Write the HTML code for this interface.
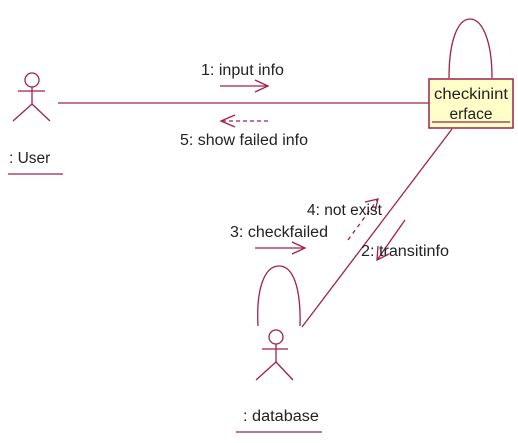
<!DOCTYPE html>
<html><head><style>body{margin:0;background:#fff}svg{display:block}text{font-family:"Liberation Sans",sans-serif;font-size:15.5px;fill:#222}</style></head><body>
<svg width="518" height="443" viewBox="0 0 518 443" xmlns="http://www.w3.org/2000/svg">
<g stroke="#a0204a" stroke-width="1.3" fill="none">
<circle cx="32" cy="80" r="7"/><line x1="18" y1="91" x2="45" y2="91"/><line x1="32" y1="87" x2="32" y2="104"/><line x1="32" y1="104" x2="13" y2="121"/><line x1="32" y1="104" x2="50" y2="121"/>
<line x1="8" y1="174" x2="63" y2="174"/>
<line x1="58" y1="103" x2="430" y2="103"/>
<path d="M449 78 C449 40 458 19 470 19 C482 19 492 40 492 78"/>
<line x1="452" y1="129" x2="302" y2="327"/>
<path d="M258 326 C256 290 264 266 279 266 C294 266 301 290 300 326"/>
<circle cx="276" cy="337" r="7"/><line x1="262" y1="349" x2="288" y2="349"/><line x1="276" y1="344" x2="276" y2="362"/><line x1="276" y1="362" x2="256" y2="380"/><line x1="276" y1="362" x2="293" y2="380"/>
<line x1="236" y1="432" x2="322" y2="432"/>
<line x1="220" y1="86" x2="268" y2="86"/><path d="M255 80 L268 86 L255 92"/>
<line x1="222" y1="121" x2="268" y2="121" stroke-dasharray="4,3"/><path d="M235 115 L221 121 L235 127"/>
<line x1="255" y1="248" x2="305" y2="248"/><path d="M292 242 L305 248 L292 254"/>
<line x1="348" y1="240" x2="378" y2="199" stroke-dasharray="4,4"/><path d="M365 202 L378 199 L375 211"/>
<line x1="405" y1="220" x2="377" y2="260"/><path d="M378 246 L377 260 L389 254"/>
</g>
<rect x="429" y="79" width="84" height="49" fill="#ffffc8" stroke="#a0204a" stroke-width="1.5"/>
<line x1="432" y1="122" x2="510" y2="122" stroke="#a0204a" stroke-width="1.3"/>
<text x="471" y="99" text-anchor="middle" textLength="74" lengthAdjust="spacingAndGlyphs">checkinint</text>
<text x="471" y="119" text-anchor="middle">erface</text>
<text x="9" y="163">: User</text>
<text x="201" y="75" textLength="83" lengthAdjust="spacingAndGlyphs">1: input info</text>
<text x="180" y="145" textLength="128" lengthAdjust="spacingAndGlyphs">5: show failed info</text>
<text x="230" y="237" textLength="98" lengthAdjust="spacingAndGlyphs">3: checkfailed</text>
<text x="307" y="215">4: not exist</text>
<text x="361" y="256" textLength="88" lengthAdjust="spacingAndGlyphs">2: transitinfo</text>
<text x="243" y="421" textLength="76" lengthAdjust="spacingAndGlyphs">: database</text>
</svg>
</body></html>
